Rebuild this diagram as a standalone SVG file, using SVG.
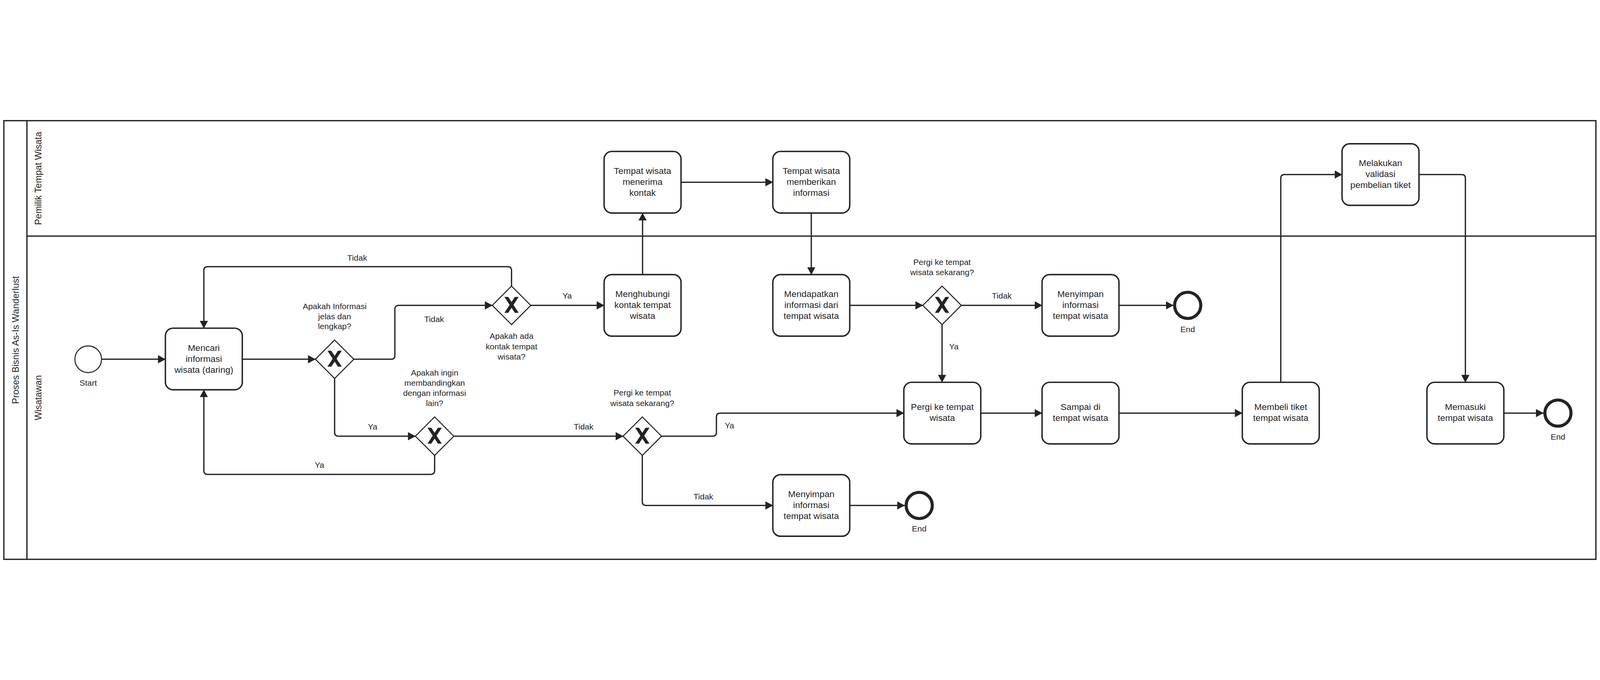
<svg xmlns="http://www.w3.org/2000/svg" width="6240" height="1740" viewBox="0 0 6240 1740" style="width:100%;height:100%">
<style>
.pool{fill:none;stroke:#232326;stroke-width:5}
.task{fill:#fff;stroke:#232326;stroke-width:5.5}
.gw{fill:#fff;stroke:#232326;stroke-width:4}
.start{fill:#fff;stroke:#232326;stroke-width:4}
.end{fill:#fff;stroke:#232326;stroke-width:12}
.flow{fill:none;stroke:#232326;stroke-width:5;marker-end:url(#arr)}
.t{font-family:"Liberation Sans",Arial,sans-serif;font-size:35px;fill:#232326;text-anchor:middle}
.l{font-family:"Liberation Sans",Arial,sans-serif;font-size:32px;fill:#232326;text-anchor:middle}
.lane{font-family:"Liberation Sans",Arial,sans-serif;font-size:36px;fill:#232326;text-anchor:middle}
</style>
<defs>
<marker id="arr" viewBox="0 0 30 32" refX="29" refY="16" markerWidth="30" markerHeight="32" markerUnits="userSpaceOnUse" orient="auto"><path d="M0,0 L30,16 L0,32 z" fill="#232326"/></marker>
<g id="xgw">
<polygon points="-75,0 0,-75 75,0 0,75" class="gw"/>
<polygon points="-28,-33 -13,-33 28,29 13,29" fill="#232326"/>
<polygon points="13,-33 28,-33 -13,29 -28,29" fill="#232326"/>
</g>
</defs>
<rect width="6240" height="1740" fill="#fff"/>
<g id="pool">
<rect x="15" y="15" width="6209" height="1710" class="pool"/>
<line x1="105" y1="15" x2="105" y2="1725" class="pool"/>
<line x1="105" y1="465" x2="6224" y2="465" class="pool"/>
<text class="lane" transform="translate(73,870) rotate(-90)">Proses Bisnis As-Is Wanderlust</text>
<text class="lane" transform="translate(161,240) rotate(-90)">Pemilik Tempat Wisata</text>
<text class="lane" transform="translate(161,1095) rotate(-90)">Wisatawan</text>
</g>
<g id="connectors">
<path class="flow" d="M396,945 H645"/>
<path class="flow" d="M945,945 H1230"/>
<path class="flow" d="M1380,945 H1525 Q1540,945 1540,930 V750 Q1540,735 1555,735 H1920"/>
<path class="flow" d="M1995,660 V599 Q1995,584 1980,584 H810 Q795,584 795,599 V824"/>
<path class="flow" d="M2070,735 H2356"/>
<path class="flow" d="M2506,615 V375"/>
<path class="flow" d="M2656,255 H3014"/>
<path class="flow" d="M3164,375 V615"/>
<path class="flow" d="M3314,735 H3599"/>
<path class="flow" d="M3749,735 H4064"/>
<path class="flow" d="M4364,735 H4576"/>
<path class="flow" d="M3674,810 V1035"/>
<path class="flow" d="M1305,1020 V1230 Q1305,1245 1320,1245 H1620"/>
<path class="flow" d="M1695,1320 V1379 Q1695,1394 1680,1394 H810 Q795,1394 795,1379 V1064"/>
<path class="flow" d="M1770,1245 H2430"/>
<path class="flow" d="M2580,1245 H2779 Q2794,1245 2794,1230 V1170 Q2794,1155 2809,1155 H3525"/>
<path class="flow" d="M2505,1320 V1500 Q2505,1515 2520,1515 H3014"/>
<path class="flow" d="M3314,1515 H3528"/>
<path class="flow" d="M3825,1155 H4064"/>
<path class="flow" d="M4364,1155 H4845"/>
<path class="flow" d="M4995,1035 V240 Q4995,225 5010,225 H5234"/>
<path class="flow" d="M5534,225 H5700 Q5715,225 5715,240 V1035"/>
<path class="flow" d="M5865,1155 H6019"/>
<text class="l" x="1393" y="560">Tidak</text>
<text class="l" x="1693" y="800">Tidak</text>
<text class="l" x="2212" y="709">Ya</text>
<text class="l" x="1453" y="1219">Ya</text>
<text class="l" x="1246" y="1368">Ya</text>
<text class="l" x="2276" y="1219">Tidak</text>
<text class="l" x="2845" y="1215">Ya</text>
<text class="l" x="2743" y="1492">Tidak</text>
<text class="l" x="3907" y="708">Tidak</text>
<text class="l" x="3720" y="907">Ya</text>
</g>
<g id="start">
<circle cx="344" cy="945" r="52" class="start"/>
<text class="l" x="344" y="1048">Start</text>
</g>
<g id="mencari">
<rect x="645" y="824" width="300" height="240" rx="30" class="task"/>
<text class="t" x="795" y="912">Mencari</text>
<text class="t" x="795" y="955">informasi</text>
<text class="t" x="795" y="998">wisata (daring)</text>
</g>
<g id="gw1">
<use href="#xgw" x="1305" y="945"/>
<text class="l" x="1305" y="750">Apakah Informasi</text>
<text class="l" x="1305" y="789">jelas dan</text>
<text class="l" x="1305" y="828">lengkap?</text>
</g>
<g id="gw2">
<use href="#xgw" x="1995" y="735"/>
<text class="l" x="1995" y="866">Apakah ada</text>
<text class="l" x="1995" y="906">kontak tempat</text>
<text class="l" x="1995" y="946">wisata?</text>
</g>
<g id="menghubungi">
<rect x="2356" y="615" width="300" height="240" rx="30" class="task"/>
<text class="t" x="2506" y="702">Menghubungi</text>
<text class="t" x="2506" y="745">kontak tempat</text>
<text class="t" x="2506" y="788">wisata</text>
</g>
<g id="menerima">
<rect x="2356" y="135" width="300" height="240" rx="30" class="task"/>
<text class="t" x="2506" y="222">Tempat wisata</text>
<text class="t" x="2506" y="265">menerima</text>
<text class="t" x="2506" y="308">kontak</text>
</g>
<g id="memberikan">
<rect x="3014" y="135" width="300" height="240" rx="30" class="task"/>
<text class="t" x="3164" y="222">Tempat wisata</text>
<text class="t" x="3164" y="265">memberikan</text>
<text class="t" x="3164" y="308">informasi</text>
</g>
<g id="mendapatkan">
<rect x="3014" y="615" width="300" height="240" rx="30" class="task"/>
<text class="t" x="3164" y="702">Mendapatkan</text>
<text class="t" x="3164" y="745">informasi dari</text>
<text class="t" x="3164" y="788">tempat wisata</text>
</g>
<g id="gw5">
<use href="#xgw" x="3674" y="735"/>
<text class="l" x="3674" y="577">Pergi ke tempat</text>
<text class="l" x="3674" y="617">wisata sekarang?</text>
</g>
<g id="menyimpan1">
<rect x="4064" y="615" width="300" height="240" rx="30" class="task"/>
<text class="t" x="4214" y="702">Menyimpan</text>
<text class="t" x="4214" y="745">informasi</text>
<text class="t" x="4214" y="788">tempat wisata</text>
</g>
<g id="end1">
<circle cx="4632" cy="735" r="51" class="end"/>
<text class="l" x="4632" y="839">End</text>
</g>
<g id="gw3">
<use href="#xgw" x="1695" y="1245"/>
<text class="l" x="1695" y="1009">Apakah ingin</text>
<text class="l" x="1695" y="1048">membandingkan</text>
<text class="l" x="1695" y="1088">dengan informasi</text>
<text class="l" x="1695" y="1127">lain?</text>
</g>
<g id="gw4">
<use href="#xgw" x="2505" y="1245"/>
<text class="l" x="2505" y="1087">Pergi ke tempat</text>
<text class="l" x="2505" y="1127">wisata sekarang?</text>
</g>
<g id="menyimpan2">
<rect x="3014" y="1395" width="300" height="240" rx="30" class="task"/>
<text class="t" x="3164" y="1482">Menyimpan</text>
<text class="t" x="3164" y="1525">informasi</text>
<text class="t" x="3164" y="1568">tempat wisata</text>
</g>
<g id="end2">
<circle cx="3585" cy="1515" r="51" class="end"/>
<text class="l" x="3585" y="1617">End</text>
</g>
<g id="pergi">
<rect x="3525" y="1035" width="300" height="240" rx="30" class="task"/>
<text class="t" x="3675" y="1143">Pergi ke tempat</text>
<text class="t" x="3675" y="1186">wisata</text>
</g>
<g id="sampai">
<rect x="4064" y="1035" width="300" height="240" rx="30" class="task"/>
<text class="t" x="4214" y="1143">Sampai di</text>
<text class="t" x="4214" y="1186">tempat wisata</text>
</g>
<g id="membeli">
<rect x="4845" y="1035" width="300" height="240" rx="30" class="task"/>
<text class="t" x="4995" y="1143">Membeli tiket</text>
<text class="t" x="4995" y="1186">tempat wisata</text>
</g>
<g id="validasi">
<rect x="5234" y="105" width="300" height="240" rx="30" class="task"/>
<text class="t" x="5384" y="192">Melakukan</text>
<text class="t" x="5384" y="235">validasi</text>
<text class="t" x="5384" y="278">pembelian tiket</text>
</g>
<g id="memasuki">
<rect x="5565" y="1035" width="300" height="240" rx="30" class="task"/>
<text class="t" x="5715" y="1143">Memasuki</text>
<text class="t" x="5715" y="1186">tempat wisata</text>
</g>
<g id="end3">
<circle cx="6076" cy="1155" r="51" class="end"/>
<text class="l" x="6076" y="1258">End</text>
</g>
</svg>
